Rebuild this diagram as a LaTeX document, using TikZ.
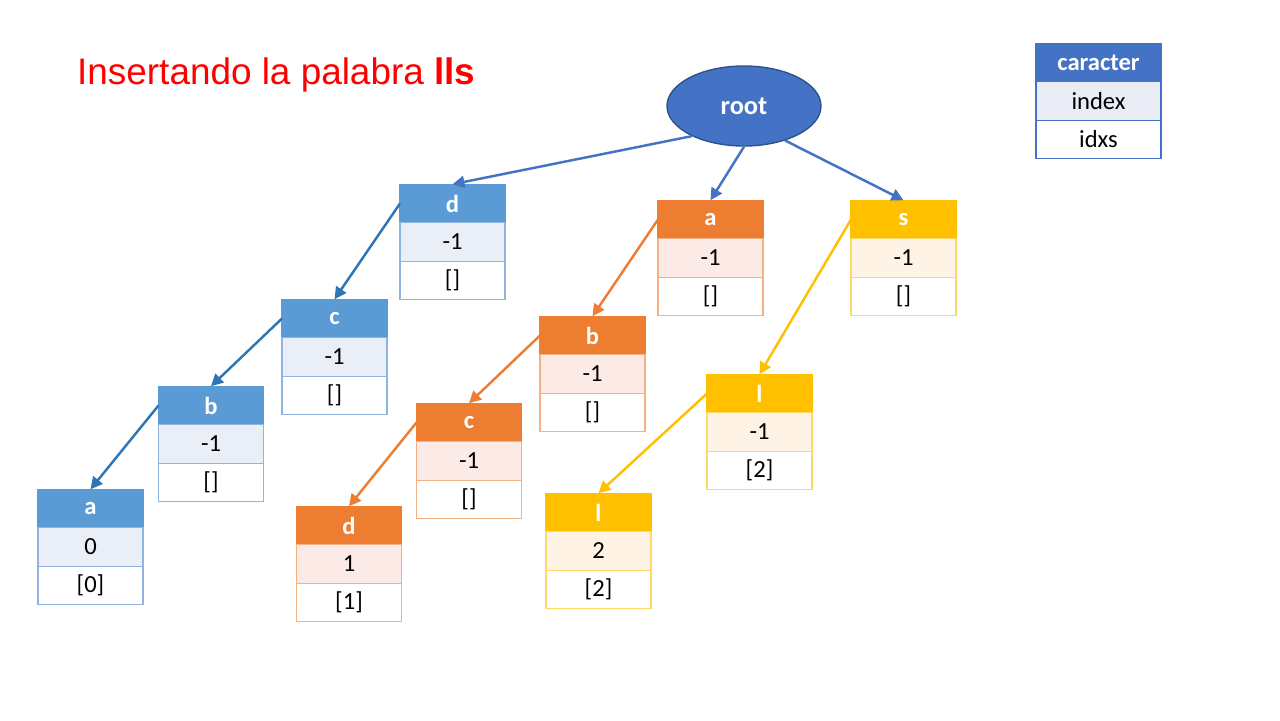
\documentclass[tikz,border=0pt]{standalone}
\usepackage{fontspec}
\setmainfont{Carlito}
\newfontfamily\titlefont{Liberation Sans}
\usepackage{tikz}
\usetikzlibrary{arrows.meta,positioning,shapes.geometric}
\definecolor{trblue}{HTML}{5B9BD5}
\definecolor{trbluelt}{HTML}{E9EEF7}
\definecolor{trblueln}{HTML}{8FB4E3}
\definecolor{trorange}{HTML}{ED7D31}
\definecolor{trorangelt}{HTML}{FBEAE6}
\definecolor{trorangeln}{HTML}{F4B183}
\definecolor{trgold}{HTML}{FFC000}
\definecolor{trgoldlt}{HTML}{FFF3E6}
\definecolor{trgoldln}{HTML}{FFD966}
\definecolor{trroot}{HTML}{4472C4}
\definecolor{trrootln}{HTML}{2F528F}
\definecolor{trlegendlt}{HTML}{E9EBF5}
\definecolor{trarblue}{HTML}{2E75B6}
\tikzset{
  trcell/.style={draw, rectangle, minimum width=2.1cm, minimum height=0.77cm, inner sep=0pt,
    outer sep=0pt, line width=0.6pt, font=\fontsize{14}{16}\selectfont},
  trhead/.style={trcell, text=white, font=\fontsize{14}{16}\selectfont\bfseries},
  bluehead/.style={trhead, fill=trblue, draw=trblue},
  bluemid/.style={trcell, fill=trbluelt, draw=trblueln},
  bluelow/.style={trcell, fill=white, draw=trblueln},
  orangehead/.style={trhead, fill=trorange, draw=trorange},
  orangemid/.style={trcell, fill=trorangelt, draw=trorangeln},
  orangelow/.style={trcell, fill=white, draw=trorangeln},
  goldhead/.style={trhead, fill=trgold, draw=trgold},
  goldmid/.style={trcell, fill=trgoldlt, draw=trgoldln},
  goldlow/.style={trcell, fill=white, draw=trgoldln},
  trarrow/.style={-{Triangle[length=2.4mm, width=2.4mm]}, line width=1.4pt},
}

\begin{document}
\begin{tikzpicture}[x=1cm,y=1cm]
  \useasboundingbox (0,0) rectangle (25.6,-14.4);

  \node[anchor=base west, text=red, font=\titlefont\fontsize{21}{25}\selectfont] (title) at (1.42,-1.68)
    {Insertando la palabra \textbf{lls}};

  % legend
  \node[trhead, fill=trroot, draw=trroot, minimum width=2.5cm] (leg1) at (21.97,-1.25) {caracter};
  \node[trcell, fill=trlegendlt, draw=trroot, minimum width=2.5cm, below=0pt of leg1] (leg2) {index};
  \node[trcell, fill=white, draw=trroot, minimum width=2.5cm, below=0pt of leg2] (leg3) {idxs};

  \node[ellipse, fill=trroot, draw=trrootln, line width=0.8pt, minimum width=3.08cm, minimum height=1.6cm,
    text=white, font=\fontsize{15}{18}\selectfont\bfseries] (root) at (14.88,-2.12) {root};

  % blue branch: d c b a
  \node[bluehead] (bd) at (9.05,-4.07) {d};
  \node[bluemid, below=0pt of bd] (bd2) {-1};
  \node[bluelow, below=0pt of bd2] (bd3) {[]};
  \node[bluehead] (bc) at (6.69,-6.37) {c};
  \node[bluemid, below=0pt of bc] (bc2) {-1};
  \node[bluelow, below=0pt of bc2] (bc3) {[]};
  \node[bluehead] (bb) at (4.22,-8.11) {b};
  \node[bluemid, below=0pt of bb] (bb2) {-1};
  \node[bluelow, below=0pt of bb2] (bb3) {[]};
  \node[bluehead] (ba) at (1.81,-10.17) {a};
  \node[bluemid, below=0pt of ba] (ba2) {0};
  \node[bluelow, below=0pt of ba2] (ba3) {[0]};

  % orange branch: a b c d
  \node[orangehead] (oa) at (14.21,-4.39) {a};
  \node[orangemid, below=0pt of oa] (oa2) {-1};
  \node[orangelow, below=0pt of oa2] (oa3) {[]};
  \node[orangehead] (ob) at (11.85,-6.71) {b};
  \node[orangemid, below=0pt of ob] (ob2) {-1};
  \node[orangelow, below=0pt of ob2] (ob3) {[]};
  \node[orangehead] (oc) at (9.38,-8.45) {c};
  \node[orangemid, below=0pt of oc] (oc2) {-1};
  \node[orangelow, below=0pt of oc2] (oc3) {[]};
  \node[orangehead] (od) at (6.98,-10.51) {d};
  \node[orangemid, below=0pt of od] (od2) {1};
  \node[orangelow, below=0pt of od2] (od3) {[1]};

  % gold branch: s l l
  \node[goldhead] (gs) at (18.07,-4.39) {s};
  \node[goldmid, below=0pt of gs] (gs2) {-1};
  \node[goldlow, below=0pt of gs2] (gs3) {[]};
  \node[goldhead] (gl) at (15.19,-7.87) {l};
  \node[goldmid, below=0pt of gl] (gl2) {-1};
  \node[goldlow, below=0pt of gl2] (gl3) {[2]};
  \node[goldhead] (gll) at (11.97,-10.25) {l};
  \node[goldmid, below=0pt of gll] (gll2) {2};
  \node[goldlow, below=0pt of gll2] (gll3) {[2]};

  \draw[trarrow, trroot] (root.-150) -- (bd.north);
  \draw[trarrow, trroot] (root.south) -- (oa.north);
  \draw[trarrow, trroot] (root.-40) -- (gs.north);

  \draw[trarrow, trarblue] (bd.west) -- (bc.north);
  \draw[trarrow, trarblue] (bc.west) -- (bb.north);
  \draw[trarrow, trarblue] (bb.west) -- (ba.north);

  \draw[trarrow, trorange] (oa.west) -- (ob.north);
  \draw[trarrow, trorange] (ob.west) -- (oc.north);
  \draw[trarrow, trorange] (oc.west) -- (od.north);

  \draw[trarrow, trgold] (gs.west) -- (gl.north);
  \draw[trarrow, trgold] (gl.west) -- (gll.north);
\end{tikzpicture}
\end{document}
